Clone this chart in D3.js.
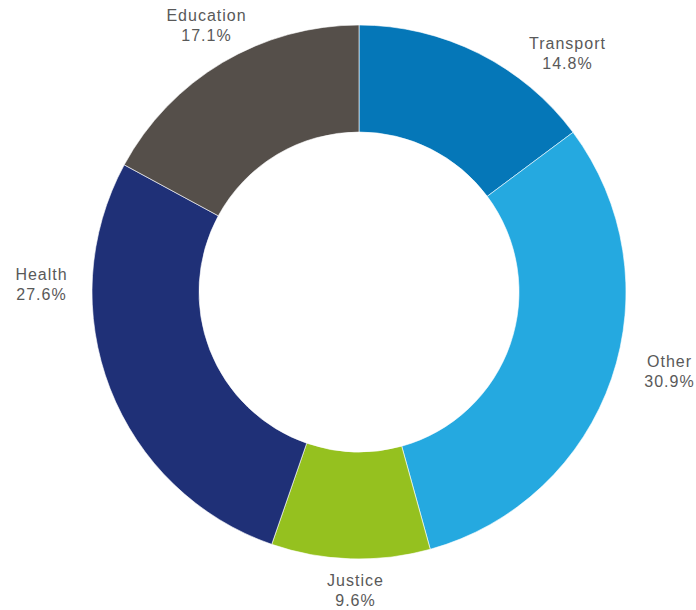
<!DOCTYPE html>
<html>
<head>
<meta charset="utf-8">
<script src="https://cdn.jsdelivr.net/npm/d3@7"></script>
<style>
  html, body { margin: 0; padding: 0; background: #fff; }
  svg { display: block; }
  text { font-family: "Liberation Sans", Arial, sans-serif; }
</style>
</head>
<body>
<script>
// Spending share by portfolio (percent), clockwise from 12 o'clock
const categories = ["Transport", "Other", "Justice", "Health", "Education"];
const shares = [14.8, 30.9, 9.6, 27.6, 17.1];
const colors = ["#0577b8", "#25a9e0", "#95c11f", "#1f3077", "#554f4a"];

// Label anchor points (centre of the two-line label block)
const labelAnchors = {
  Transport: [567, 54],
  Other:     [669, 372],
  Justice:   [355, 591],
  Health:    [41, 285],
  Education: [206, 26]
};

const width = 696, height = 610;
const cx = 359, cy = 292, outerR = 267, innerR = 160;

const svg = d3.select("body").append("svg")
  .attr("width", width).attr("height", height);

const data = categories.map((c, i) => ({ name: c, value: shares[i], color: colors[i] }));

const pie = d3.pie().value(d => d.value).sort(null);
const arc = d3.arc().innerRadius(innerR).outerRadius(outerR);

const g = svg.append("g").attr("transform", `translate(${cx},${cy})`);

g.selectAll("path")
  .data(pie(data))
  .join("path")
  .attr("d", arc)
  .attr("fill", d => d.data.color)
  .attr("stroke", "#ffffff")
  .attr("stroke-width", 0.6);

const labels = svg.append("g")
  .selectAll("text")
  .data(data)
  .join("text")
  .attr("text-anchor", "middle")
  .attr("font-size", 16)
  .attr("letter-spacing", 1)
  .attr("fill", "#595959")
  .attr("transform", d => `translate(${labelAnchors[d.name][0] + 0.5},${labelAnchors[d.name][1]})`);

labels.append("tspan").attr("x", 0).attr("y", -5).text(d => d.name);
labels.append("tspan").attr("x", 0).attr("y", 15).text(d => d3.format(".1f")(d.value) + "%");
</script>
</body>
</html>
